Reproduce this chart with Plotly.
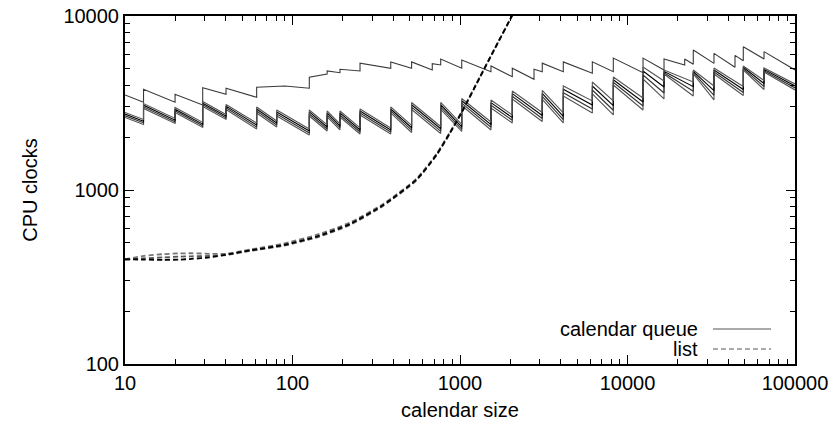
import plotly.graph_objects as go

# ---------------- data ----------------
# calendar queue: the upper (outlier) run
cq_top_x = [10, 12.9, 12.9, 19.9, 19.9, 29.1, 29.1, 40.1, 40.1, 61.1, 61.1, 90, 126, 126, 161, 161,
            192, 192, 253, 253, 386, 386, 514, 514, 683, 683, 767, 767, 1024, 1024, 1531, 1531,
            2052, 2052, 2766, 2766, 3098, 3098, 4137, 4137, 6166, 6166, 8228, 8228, 12380, 12380,
            16520, 16520, 21950, 21950, 24700, 24700, 32830, 32830, 43830, 43830, 49130, 49130,
            65310, 65310, 100000]
cq_top_y = [3517, 3193, 3792, 3193, 3550, 3081, 3873, 3550, 3843, 3411, 3894, 3961, 3843, 4444, 4642, 4830,
            4722, 4938, 4830, 5358, 5009, 5450, 5009, 5450, 4894, 5323, 5230, 5660, 5009, 5586, 4785, 5160,
            4480, 5009, 4328, 4938, 4785, 5358, 4785, 5450, 4684, 5450, 4785, 5730, 4722, 5730,
            4894, 5660, 5230, 5660, 5275, 6380, 5340, 6100, 5070, 5940, 5530, 6660,
            5660, 6240, 4894]

# calendar queue: the bundle of runs
cq_x = [10, 12.9, 12.9, 19.9, 19.9, 29.1, 29.1, 40.1, 40.1, 61.1, 61.1, 80.5, 80.5, 126, 126,
        161, 161, 192, 192, 253, 253, 386, 386, 514, 514, 767, 767, 1024, 1024, 1531, 1531,
        2052, 2052, 3098, 3098, 4137, 4137, 6166, 6166, 8228, 8228, 12380, 12380, 16520, 16520,
        24700, 24700, 32830, 32830, 49130, 49130, 65310, 65310, 100000]
cq_b = [2790, 2545, 3140, 2577, 2981, 2445, 3227, 2717, 3101, 2428, 3001, 2493, 2884, 2243, 2884,
        2365, 2846, 2396, 2846, 2273, 2922, 2273, 3001, 2350, 3184, 2318, 3184, 2380, 3358, 2461, 3292,
        2699, 3708, 2790, 3732, 2772, 3961, 3249, 4176, 3249, 4461, 3380, 5092, 4232, 4894,
        4176, 4894, 3961, 5024, 3935, 5160, 4260, 5024, 4067]
cq_c = [2730, 2487, 3073, 2520, 2914, 2390, 3154, 2657, 3033, 2365, 2922, 2428, 2809, 2184, 2809,
        2303, 2772, 2334, 2772, 2213, 2846, 2213, 2922, 2279, 3090, 2249, 3090, 2309, 3257, 2374, 3176,
        2605, 3578, 2681, 3587, 2653, 3792, 3081, 3961, 3053, 4305, 3206, 4830, 3909, 4811,
        3925, 4811, 3722, 4894, 3782, 5072, 4094, 4938, 3961]
cq_d = [2670, 2435, 3009, 2467, 2854, 2340, 3090, 2601, 2969, 2303, 2846, 2365, 2735, 2126, 2735,
        2243, 2699, 2273, 2699, 2154, 2772, 2154, 2846, 2207, 2993, 2178, 2993, 2237, 3154, 2294, 3069,
        2517, 3457, 2577, 3448, 2537, 3625, 2922, 3757, 2873, 4160, 3041, 4581, 3611, 4722,
        3693, 4722, 3503, 4766, 3635, 4980, 3935, 4849, 3858]
cq_e = [2610, 2380, 2942, 2412, 2790, 2288, 3021, 2545, 2903, 2243, 2772, 2303, 2664, 2070, 2664,
        2184, 2629, 2213, 2629, 2098, 2699, 2098, 2772, 2140, 2903, 2112, 2903, 2169, 3061, 2213, 2961,
        2428, 3336, 2477, 3314, 2428, 3471, 2772, 3564, 2699, 4013, 2884, 4345, 3336, 4642,
        3471, 4642, 3292, 4642, 3494, 4894, 3782, 4766, 3757]

# list runs
list_x = [10, 13, 17, 21, 25, 32, 40, 56, 88, 139, 220, 348, 551, 726, 871, 1024, 1315, 1600, 2040, 2300]
list_a = [400, 398, 397, 398, 402, 410, 425, 450, 483, 540, 638, 820, 1150, 1600, 2130, 2800, 4450, 6400, 10000, 12600]
list_b = [400, 418, 428, 432, 433, 430, 430, 455, 492, 552, 650, 832, 1165, 1620, 2150, 2820, 4470, 6420, 10000, 12600]
list_c = [398, 405, 410, 414, 416, 418, 423, 447, 478, 533, 630, 812, 1140, 1590, 2120, 2790, 4440, 6390, 10000, 12600]

# axis ticks
x_ticks = [10, 100, 1000, 10000, 100000]
x_ticktext = ["10", "100", "1000", "10000", "100000"]
y_ticks = [100, 1000, 10000]
y_ticktext = ["100", "1000", "10000"]
x_minor = [m * d for d in [10, 100, 1000, 10000] for m in range(2, 10)]
y_minor = [m * d for d in [100, 1000] for m in range(2, 10)]

# ---------------- figure ----------------
fig = go.Figure()

cq_series = [(cq_top_y, cq_top_x, "#3a3a3a"), (cq_e, cq_x, "#555555"), (cq_d, cq_x, "#333333"),
             (cq_c, cq_x, "#000000"), (cq_b, cq_x, "#555555")]
for ys, xs, col in cq_series:
    fig.add_trace(go.Scatter(x=xs, y=ys, mode="lines", showlegend=False,
                             line=dict(color=col, width=1.1)))

for ys, col in [(list_b, "#777777"), (list_c, "#555555"), (list_a, "#000000")]:
    fig.add_trace(go.Scatter(x=list_x, y=ys, mode="lines", showlegend=False,
                             line=dict(color=col, width=1.8, dash="5px,3px", shape="spline",
                                       smoothing=0.6)))

font = dict(family="Liberation Sans, Arial, sans-serif", size=20, color="black")
title_font = dict(family="Liberation Sans, Arial, sans-serif", size=20, color="black")

axis_common = dict(type="log", showgrid=False, zeroline=False, showline=True, linewidth=2,
                   linecolor="black", mirror="allticks", ticks="inside", ticklen=9, tickwidth=1,
                   tickcolor="black", tickmode="array", tickfont=font, automargin=False)

fig.update_layout(
    width=832, height=427,
    margin=dict(l=125, r=37, t=16, b=63),
    paper_bgcolor="white", plot_bgcolor="white",
    font=font,
    xaxis=dict(axis_common, range=[1, 5], tickvals=x_ticks, ticktext=x_ticktext,
               minor=dict(tickmode="array", tickvals=x_minor, ticks="inside", ticklen=5,
                          tickwidth=1, tickcolor="black", showgrid=False),
               title=dict(text="calendar size", font=title_font, standoff=10)),
    yaxis=dict(axis_common, range=[2, 4], tickvals=y_ticks, ticktext=y_ticktext,
               minor=dict(tickmode="array", tickvals=y_minor, ticks="inside", ticklen=5,
                          tickwidth=1, tickcolor="black", showgrid=False),
               title=dict(text="CPU clocks", font=title_font, standoff=20)),
)

# legend (gnuplot style: text on the left, sample on the right)
legend_items = [("calendar queue", "solid", 0.1006), ("list", "5px,3px", 0.0431)]
for label, dash, yp in legend_items:
    fig.add_annotation(x=0.858, y=yp, xref="paper", yref="paper", text=label, showarrow=False,
                       xanchor="right", yanchor="middle", font=font)
    fig.add_shape(type="line", xref="paper", yref="paper", x0=0.8776, x1=0.9642, y0=yp, y1=yp,
                  line=dict(color="#555555", width=1.2, dash=dash))

fig.write_html("out.html")
